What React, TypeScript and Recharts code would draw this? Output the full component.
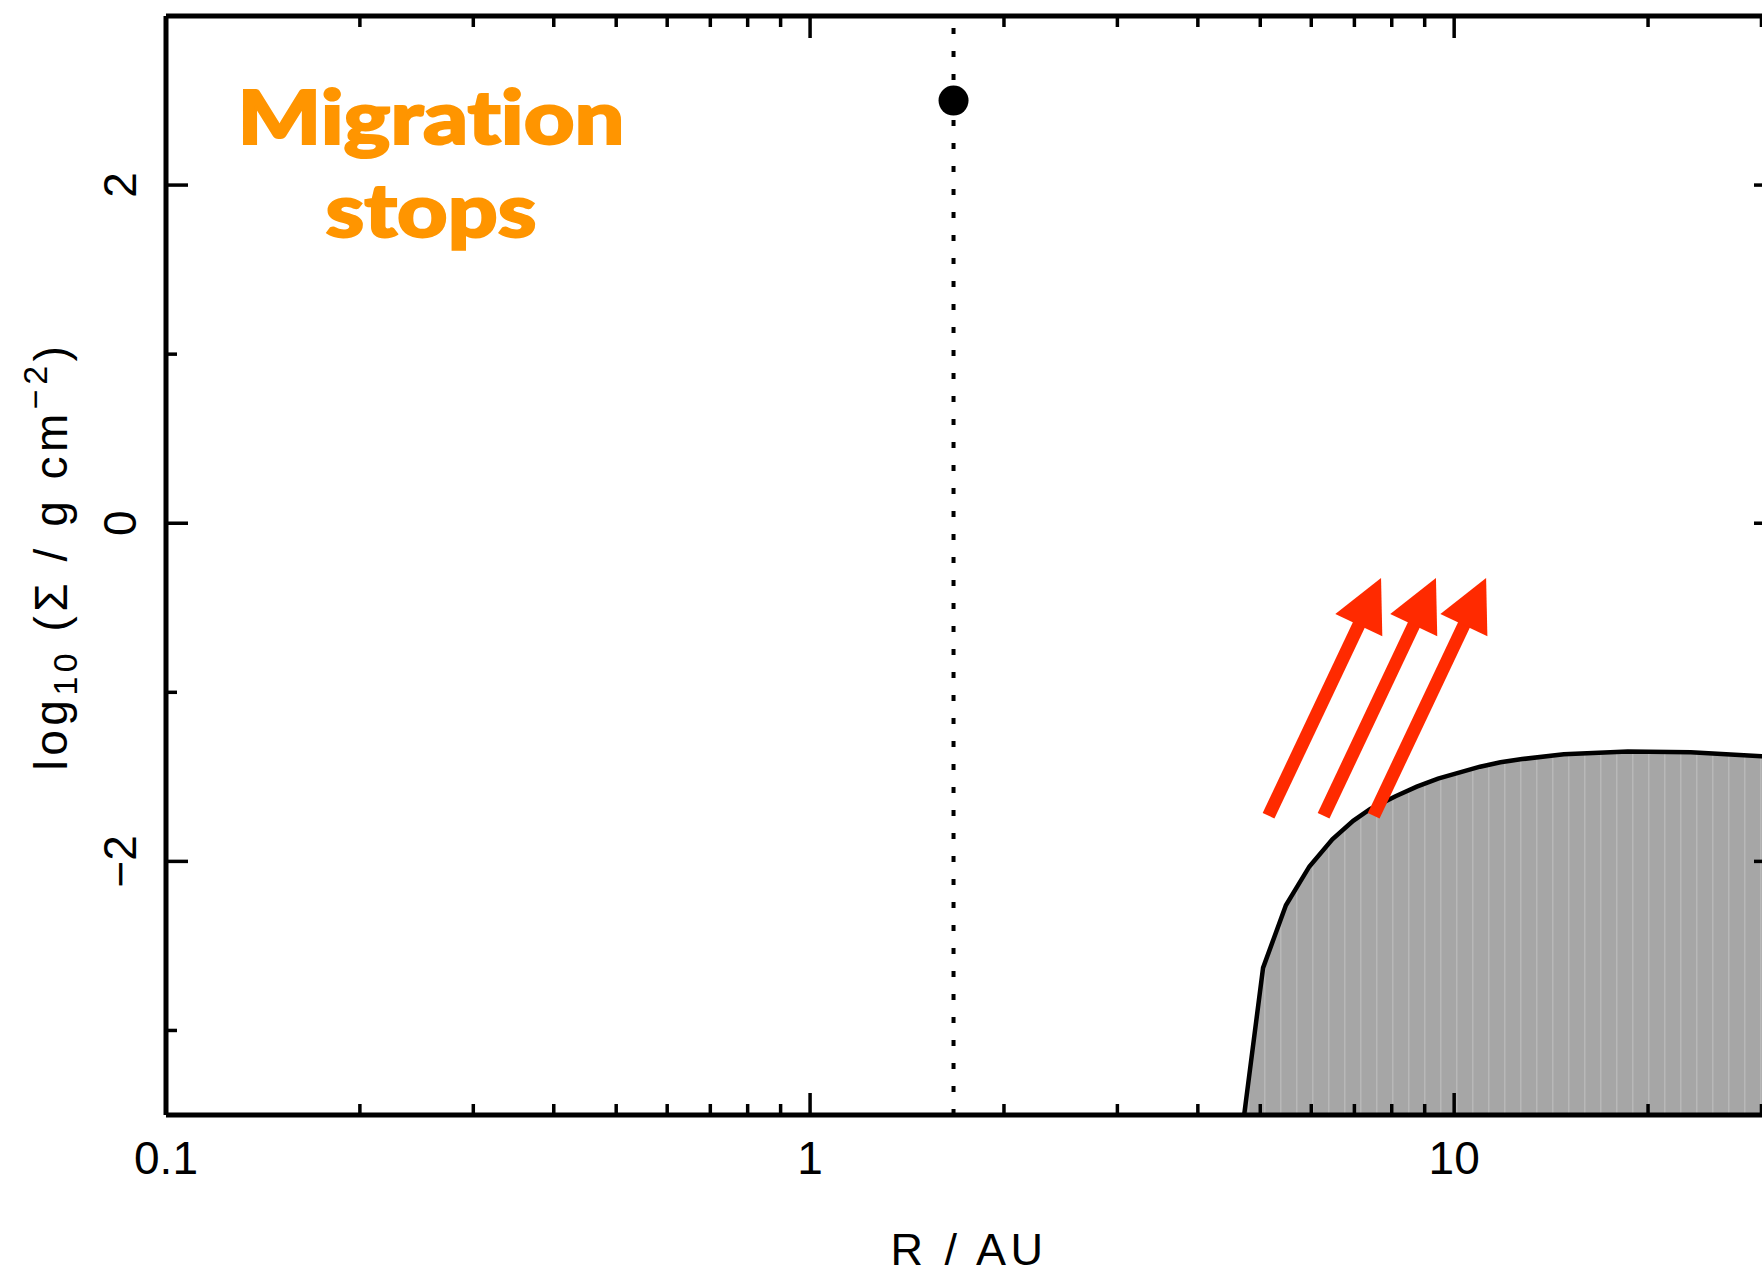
import React from "react";
import {
  ComposedChart,
  Area,
  XAxis,
  YAxis,
  ReferenceLine,
  ReferenceDot,
  Customized,
} from "recharts";

// outer disc surface density: radius in AU, log10 Sigma in g cm^-2
const radius = [4.72, 5.05, 5.48, 5.96, 6.47, 6.97, 7.41, 8.11, 8.75, 9.44, 10.97, 11.8, 12.75, 14.8, 18.6, 23.3, 30, 31.6];
const logSigma = [-3.5, -2.63, -2.26, -2.03, -1.87, -1.76, -1.69, -1.615, -1.558, -1.51, -1.44, -1.414, -1.395, -1.366, -1.35, -1.355, -1.378, -1.386];

// planet position
const planetR = 1.67;
const planetLogSigma = 2.5;

// outward-moving material arrows (tail -> tip)
const arrowTailR = [5.15, 6.27, 7.5];
const arrowTipR = [7.7, 9.37, 11.21];
const arrowTailY = -1.73;
const arrowTipY = -0.324;

const xTicks = [0.1, 0.2, 0.3, 0.4, 0.5, 0.6, 0.7, 0.8, 0.9, 1, 2, 3, 4, 5, 6, 7, 8, 9, 10, 20, 30];
const xLabelled = [0.1, 1, 10];
const yTicks = [-3, -2, -1, 0, 1, 2];
const yLabelled = [-2, 0, 2];

const X_DOMAIN = [0.1, 31.6];
const Y_DOMAIN = [-3.5, 3];

const AXIS_FONT = "'Liberation Sans', Arial, Helvetica, sans-serif";
const ARROW_RED = "#ff2a00";
const ORANGE = "#ff9500";
const FRAME = { stroke: "#000", strokeWidth: 5 };
const TICK_W = 3.5;

const profile = radius.map((r, i) => ({ r, logSigma: logSigma[i] }));

const fmt = (v: number) => (v < 0 ? "\u2212" + Math.abs(v) : String(v));

const BottomTick = (props: any) => {
  const { x, y, payload } = props;
  const major = xLabelled.includes(payload.value);
  return (
    <g>
      <line x1={x} y1={y} x2={x} y2={y - (major ? 22 : 11)} stroke="#000" strokeWidth={TICK_W} />
      {major && (
        <text x={x} y={y + 59} textAnchor="middle" fontSize={46} fontFamily={AXIS_FONT} fill="#000">
          {payload.value}
        </text>
      )}
    </g>
  );
};

const TopTick = (props: any) => {
  const { x, y, payload } = props;
  const major = xLabelled.includes(payload.value);
  return <line x1={x} y1={y} x2={x} y2={y + (major ? 22 : 11)} stroke="#000" strokeWidth={TICK_W} />;
};

const LeftTick = (props: any) => {
  const { x, y, payload } = props;
  const major = yLabelled.includes(payload.value);
  const bx = x - 30;
  return (
    <g>
      <line x1={x} y1={y} x2={x + (major ? 22 : 11)} y2={y} stroke="#000" strokeWidth={TICK_W} />
      {major && (
        <text
          x={bx}
          y={y}
          transform={`rotate(-90, ${bx}, ${y})`}
          textAnchor="middle"
          fontSize={46}
          fontFamily={AXIS_FONT}
          fill="#000"
        >
          {fmt(payload.value)}
        </text>
      )}
    </g>
  );
};

const RightTick = (props: any) => {
  const { x, y, payload } = props;
  const major = yLabelled.includes(payload.value);
  return <line x1={x} y1={y} x2={x - (major ? 22 : 11)} y2={y} stroke="#000" strokeWidth={TICK_W} />;
};

const Arrow = (p: any) => {
  const { x1, y1, x2, y2 } = p;
  if ([x1, y1, x2, y2].some((v) => typeof v !== "number" || Number.isNaN(v))) return null;
  const dx = x2 - x1;
  const dy = y2 - y1;
  const len = Math.hypot(dx, dy);
  const ux = dx / len;
  const uy = dy / len;
  const headLen = 52;
  const headHalf = 26;
  const bx = x2 - ux * headLen;
  const by = y2 - uy * headLen;
  const px = -uy;
  const py = ux;
  return (
    <g>
      <line x1={x1} y1={y1} x2={bx + ux * 4} y2={by + uy * 4} stroke={ARROW_RED} strokeWidth={13} />
      <polygon
        points={`${x2},${y2} ${bx + px * headHalf},${by + py * headHalf} ${bx - px * headHalf},${by - py * headHalf}`}
        fill={ARROW_RED}
      />
    </g>
  );
};

const Annotations = () => (
  <g>
    <g
      fontFamily="Lato, 'Open Sans', sans-serif"
      fontWeight={900}
      fill={ORANGE}
      stroke={ORANGE}
      strokeWidth={2}
      style={{ fontVariantLigatures: "none" }}
    >
      <text x={431} y={144} fontSize={75} textAnchor="middle" textLength={387} lengthAdjust="spacingAndGlyphs">
        Migration
      </text>
      <text x={431} y={237} fontSize={75} textAnchor="middle" textLength={211} lengthAdjust="spacingAndGlyphs">
        stops
      </text>
    </g>
    <text
      x={969}
      y={1265}
      textAnchor="middle"
      fontSize={45}
      fontFamily={AXIS_FONT}
      letterSpacing={4.5}
      fill="#000"
    >
      R / AU
    </text>
    <text
      x={67}
      y={556}
      transform="rotate(-90, 67, 556)"
      textAnchor="middle"
      fontSize={46}
      fontFamily={AXIS_FONT}
      letterSpacing={4.5}
      fill="#000"
    >
      log
      <tspan fontSize={34} dy={10}>10</tspan>
      <tspan dy={-10}> ({"\u03a3"} / g cm</tspan>
      <tspan fontSize={34} dy={-20}>{"\u22122"}</tspan>
      <tspan dy={20}>)</tspan>
    </text>
  </g>
);

export default function App() {
  return (
    <div
      style={{
        position: "absolute",
        left: 0,
        top: 0,
        width: 1762,
        height: 1278,
        overflow: "hidden",
        background: "#fff",
      }}
    >
      <ComposedChart width={1780} height={1278} data={profile} margin={{ top: 15, right: 0, bottom: 0, left: 0 }}>
        <defs>
          <pattern id="discStripes" patternUnits="userSpaceOnUse" width={16} height={8}>
            <rect width={16} height={8} fill="#a6a6a6" />
            <rect x={0} width={1.5} height={8} fill="#b8b8b8" />
          </pattern>
        </defs>
        <Area
          type="linear"
          dataKey="logSigma"
          stroke="#000"
          strokeWidth={4.5}
          fill="url(#discStripes)"
          fillOpacity={1}
          baseValue="dataMin"
          dot={false}
          activeDot={false}
          isAnimationActive={false}
        />
        <ReferenceLine x={planetR} stroke="#000" strokeWidth={4} strokeDasharray="6 17" />
        <ReferenceDot x={planetR} y={planetLogSigma} r={15} fill="#000" stroke="none" />
        {arrowTailR.map((tail, i) => (
          <ReferenceLine
            key={i}
            segment={[
              { x: tail, y: arrowTailY },
              { x: arrowTipR[i], y: arrowTipY },
            ]}
            shape={Arrow}
          />
        ))}
        <XAxis
          dataKey="r"
          type="number"
          scale="log"
          domain={X_DOMAIN}
          allowDataOverflow
          ticks={xTicks}
          interval={0}
          height={163}
          tickSize={0}
          tickMargin={0}
          tickLine={false}
          axisLine={FRAME}
          tick={<BottomTick />}
        />
        <XAxis
          xAxisId="top"
          orientation="top"
          dataKey="r"
          type="number"
          scale="log"
          domain={X_DOMAIN}
          allowDataOverflow
          ticks={xTicks}
          interval={0}
          height={1}
          tickSize={0}
          tickMargin={0}
          tickLine={false}
          axisLine={FRAME}
          tick={<TopTick />}
        />
        <YAxis
          type="number"
          domain={Y_DOMAIN}
          allowDataOverflow
          ticks={yTicks}
          interval={0}
          width={166}
          tickSize={0}
          tickMargin={0}
          tickLine={false}
          axisLine={FRAME}
          tick={<LeftTick />}
        />
        <YAxis
          yAxisId="right"
          orientation="right"
          type="number"
          domain={Y_DOMAIN}
          allowDataOverflow
          ticks={yTicks}
          interval={0}
          width={4}
          tickSize={0}
          tickMargin={0}
          tickLine={false}
          axisLine={FRAME}
          tick={<RightTick />}
        />
        <Customized component={Annotations} />
      </ComposedChart>
    </div>
  );
}
